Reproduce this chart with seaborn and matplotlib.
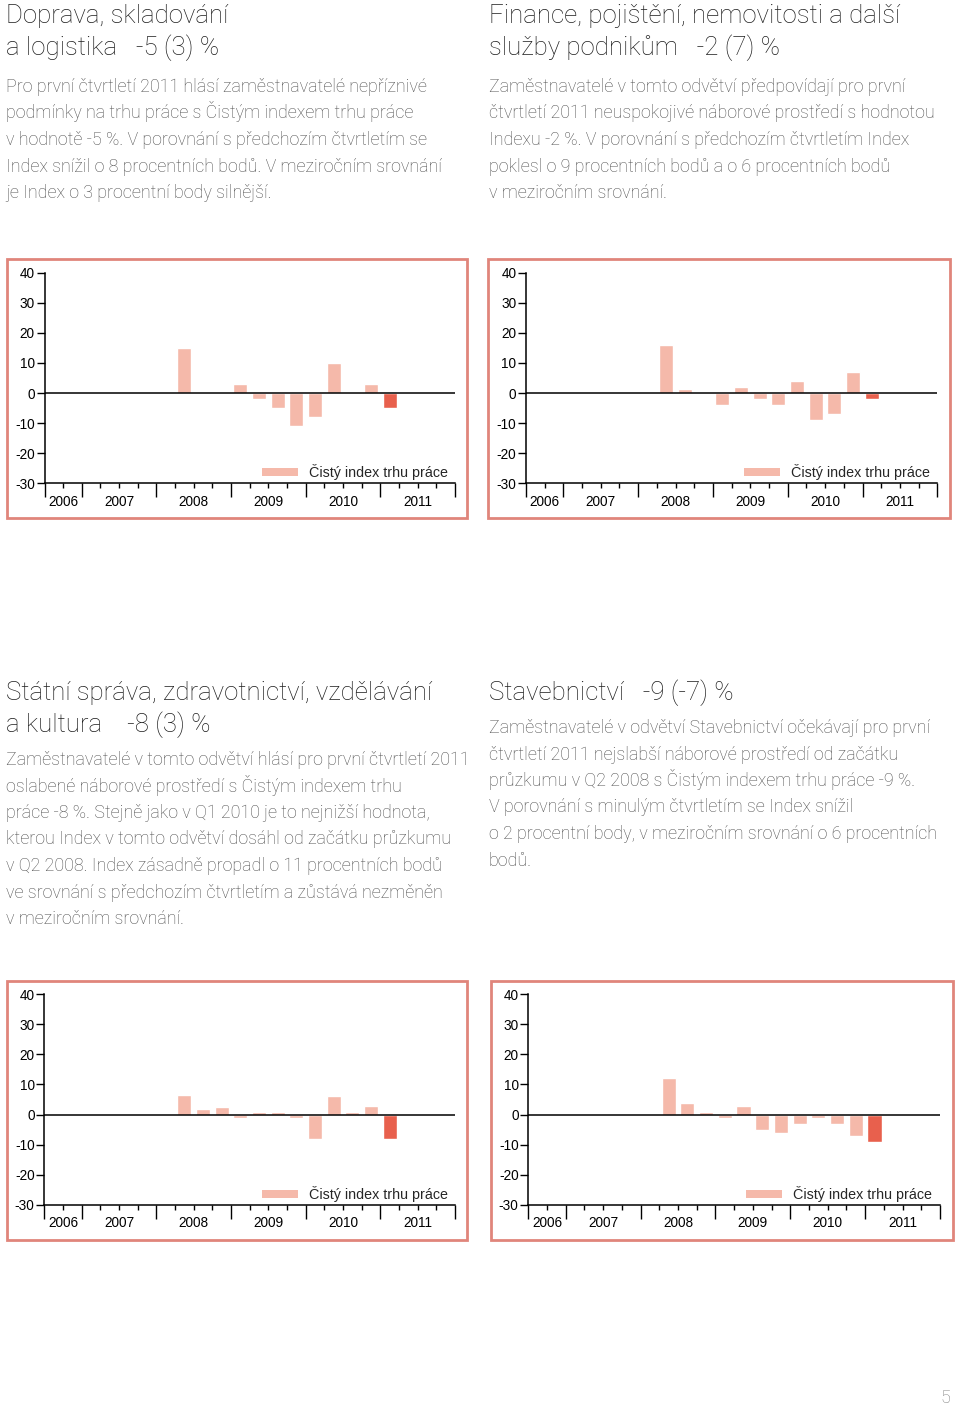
import matplotlib
matplotlib.use('Agg')
import matplotlib.pyplot as plt
import matplotlib.patches as mpatches
import numpy as np
import pandas as pd
import seaborn as sns

W, H = 960, 1406

# quarters on the x axis: 2006 Q3 .. 2011 Q4
kvartaly = ['2006 Q3', '2006 Q4'] + [f'{r} Q{q}' for r in range(2007, 2012) for q in range(1, 5)]
# survey quarters with data: 2008 Q2 .. 2011 Q1
mereni = kvartaly[7:19]
roky = ['2006', '2007', '2008', '2009', '2010', '2011']

doprava = [15, 0, 0, 3, -2, -5, -11, -8, 10, 0, 3, -5]
finance = [16, 1.5, 0, -4, 2, -2, -4, 4, -9, -7, 7, -2]
statni = [6.5, 2, 2.5, -1, 1, 1, -1, -8, 6, 1, 3, -8]
stavebnictvi = [12, 4, 1, -1, 3, -5, -6, -3, -1, -3, -7, -9]

y_ticks = [-30, -20, -10, 0, 10, 20, 30, 40]
legenda = 'Čistý index trhu práce'

SVETLA = '#f5b9aa'
TMAVA = '#e8604d'
RAMECEK = '#e0857b'
TITLE_C = '#1e1e1e'
TEXT_C = '#4e4e4e'

sns.set_theme(style='white')
plt.rcParams['font.family'] = ['Liberation Sans', 'DejaVu Sans']
plt.rcParams['axes.unicode_minus'] = False

fig = plt.figure(figsize=(W / 100, H / 100), dpi=100)
fig.patch.set_facecolor('white')


def fx(x):
    return x / W


def fy(y):
    return 1 - y / H


def titulek(x, y0, lines):
    for i, t in enumerate(lines):
        fig.text(fx(x), fy(y0 + i * 32), t, fontsize=18.6, color=TITLE_C,
                 family=['Roboto', 'DejaVu Sans'], fontweight='light', va='baseline')


def odstavec(x, y0, lines):
    for i, t in enumerate(lines):
        fig.text(fx(x), fy(y0 + i * 26.5), t, fontsize=12.9, color=TEXT_C,
                 family=['Roboto', 'DejaVu Sans'], fontweight='light', va='baseline')


def graf(box, osa, hodnoty):
    # box: left, top, right, bottom of the frame in px; osa: left, top(40), right, bottom(-30)
    bl, bt, br, bb = box
    fig.add_artist(mpatches.Rectangle((fx(bl), fy(bb)), fx(br - bl), (bb - bt) / H,
                                      transform=fig.transFigure, fill=False,
                                      ec=RAMECEK, lw=2.0))
    al, at, ar, ab = osa
    ax = fig.add_axes([fx(al), fy(ab), fx(ar - al), (ab - at) / H])
    ax.set_facecolor('none')
    df = pd.DataFrame({'kvartal': mereni, 'hodnota': hodnoty})
    df['typ'] = ['starsi'] * (len(mereni) - 1) + ['aktualni']
    sns.barplot(data=df, x='kvartal', y='hodnota', hue='typ', order=kvartaly,
                palette={'starsi': SVETLA, 'aktualni': TMAVA}, dodge=False,
                width=0.75, saturation=1, legend=False, ax=ax)
    ax.axhline(0, color='black', lw=1.1, zorder=3)
    ax.set_xlim(-0.5, len(kvartaly) - 0.5)
    ax.set_ylim(-30, 40)
    ax.set_xlabel('')
    ax.set_ylabel('')
    for s in ['top', 'right']:
        ax.spines[s].set_visible(False)
    for s in ['left', 'bottom']:
        ax.spines[s].set_color('black')
        ax.spines[s].set_linewidth(1.1)
    ax.set_yticks(y_ticks)
    ax.set_yticklabels([str(v) for v in y_ticks])
    ax.tick_params(axis='y', direction='out', length=5.5, width=1, pad=1.5,
                   labelsize=9.8, colors='black', left=True)
    # year boundaries as major ticks, quarter boundaries as minor ticks
    hranice = [-0.5, 1.5, 5.5, 9.5, 13.5, 17.5, 21.5]
    ax.set_xticks(hranice)
    ax.set_xticklabels([''] * len(hranice))
    ctvrtky = np.arange(-0.5, len(kvartaly), 1.0)
    stredy = dict(zip([0.5, 3.5, 7.5, 11.5, 15.5, 19.5], roky))
    ax.set_xticks(ctvrtky, minor=True)
    ax.set_xticklabels([stredy.get(float(c), '') for c in ctvrtky], minor=True)
    ax.tick_params(axis='x', which='major', direction='out', length=10, width=1,
                   colors='black', bottom=True)
    ax.tick_params(axis='x', which='minor', direction='out', length=3.6, width=1,
                   pad=4.5, labelsize=9.8, colors='black', bottom=True)
    # legend
    ax.legend(handles=[mpatches.Patch(color=SVETLA, lw=0)], labels=[legenda],
              loc='center left', frameon=False, fontsize=10.3,
              bbox_to_anchor=((262 - 44.5) / 410.5, (483.3 - 472) / 210.6),
              borderpad=0, borderaxespad=0, handlelength=2.5, handleheight=0.48,
              handletextpad=0.78)
    return ax


# top-left
titulek(6, 23, ['Doprava, skladování', 'a logistika   -5 (3) %'])
odstavec(6, 92, ['Pro první čtvrtletí 2011 hlásí zaměstnavatelé nepříznivé',
                 'podmínky na trhu práce s Čistým indexem trhu práce',
                 'v hodnotě -5 %. V porovnání s předchozím čtvrtletím se',
                 'Index snížil o 8 procentních bodů. V meziročním srovnání',
                 'je Index o 3 procentní body silnější.'])
graf((7, 259, 467, 518), (44.5, 272.7, 455, 483.3), doprava)

# top-right
titulek(489, 23, ['Finance, pojištění, nemovitosti a další', 'služby podnikům   -2 (7) %'])
odstavec(489, 92, ['Zaměstnavatelé v tomto odvětví předpovídají pro první',
                   'čtvrtletí 2011 neuspokojivé náborové prostředí s hodnotou',
                   'Indexu -2 %. V porovnání s předchozím čtvrtletím Index',
                   'poklesl o 9 procentních bodů a o 6 procentních bodů',
                   'v meziročním srovnání.'])
graf((488, 259, 950, 518), (526, 272.7, 937.3, 483.3), finance)

# bottom-left
titulek(6, 700, ['Státní správa, zdravotnictví, vzdělávání', 'a kultura    -8 (3) %'])
odstavec(6, 765, ['Zaměstnavatelé v tomto odvětví hlásí pro první čtvrtletí 2011',
                  'oslabené náborové prostředí s Čistým indexem trhu',
                  'práce -8 %. Stejně jako v Q1 2010 je to nejnižší hodnota,',
                  'kterou Index v tomto odvětví dosáhl od začátku průzkumu',
                  'v Q2 2008. Index zásadně propadl o 11 procentních bodů',
                  've srovnání s předchozím čtvrtletím a zůstává nezměněn',
                  'v meziročním srovnání.'])
graf((7, 981, 467, 1240), (44.3, 994, 455, 1205), statni)

# bottom-right
titulek(489, 700, ['Stavebnictví   -9 (-7) %'])
odstavec(489, 733, ['Zaměstnavatelé v odvětví Stavebnictví očekávají pro první',
                    'čtvrtletí 2011 nejslabší náborové prostředí od začátku',
                    'průzkumu v Q2 2008 s Čistým indexem trhu práce -9 %.',
                    'V porovnání s minulým čtvrtletím se Index snížil',
                    'o 2 procentní body, v meziročním srovnání o 6 procentních',
                    'bodů.'])
graf((491, 981, 953, 1240), (528.3, 994, 940, 1205), stavebnictvi)

fig.text(fx(950), fy(1403), '5', fontsize=13, color='#808080', ha='right', va='baseline',
         family=['Roboto', 'DejaVu Sans'], fontweight='light')

fig.savefig('out.png', dpi=100)
